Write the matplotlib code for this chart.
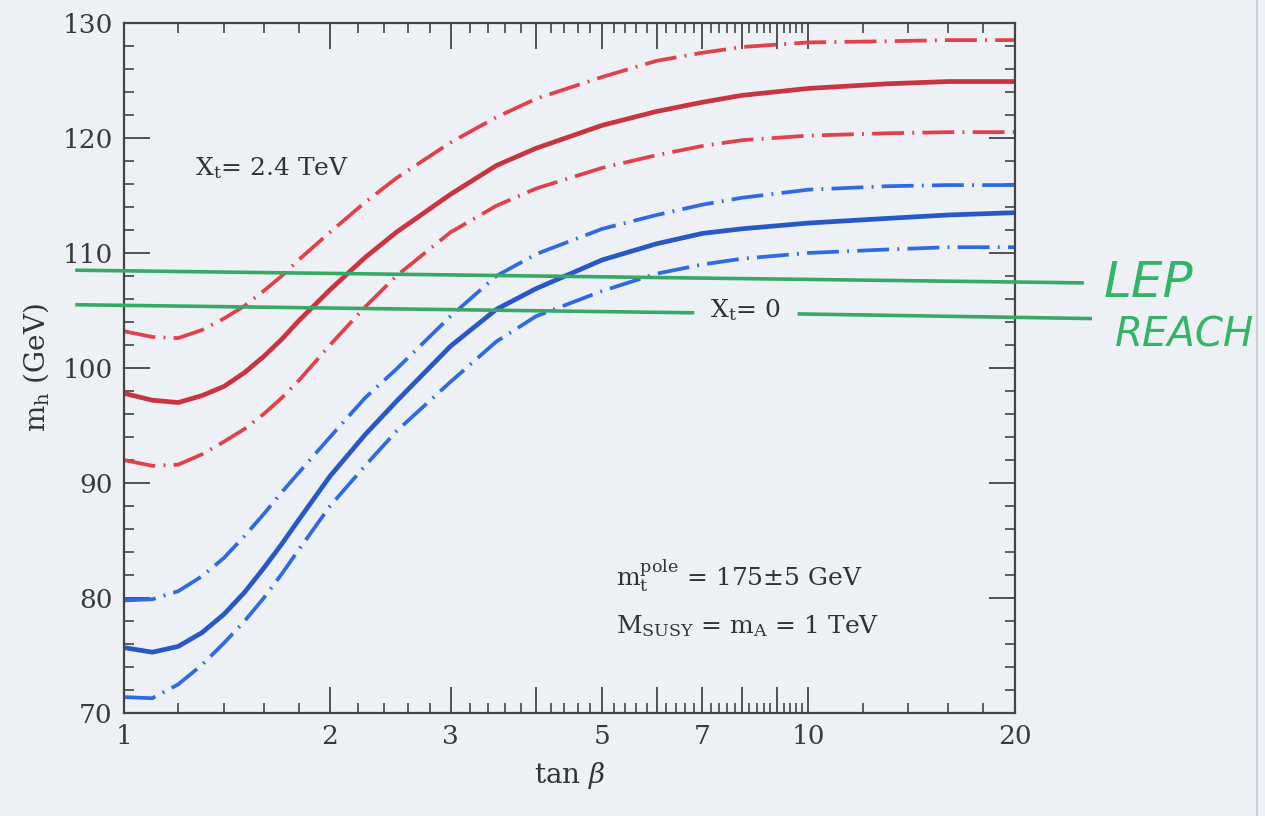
import numpy as np
import matplotlib
matplotlib.use('Agg')
from matplotlib import pyplot as plt
from matplotlib.ticker import FixedLocator, NullFormatter

plt.rcParams['font.family'] = 'DejaVu Serif'
plt.rcParams['mathtext.fontset'] = 'dejavuserif'

tanb = [1, 1.1, 1.2, 1.3, 1.4, 1.5, 1.6, 1.7, 1.8, 2, 2.25, 2.5, 3, 3.5, 4, 5, 6, 7, 8, 10, 13, 16, 20]

# X_t = 2.4 TeV (red): mt = 175 (solid), 180 (upper), 170 (lower)
red_mid = [97.8, 97.2, 97.0, 97.6, 98.4, 99.6, 101.0, 102.5, 104.1, 106.8, 109.6, 111.8, 115.1, 117.6,
           119.1, 121.1, 122.3, 123.1, 123.7, 124.3, 124.7, 124.9, 124.9]
red_hi = [103.2, 102.7, 102.6, 103.3, 104.3, 105.4, 106.7, 108.0, 109.4, 111.8, 114.4, 116.5, 119.6,
          121.8, 123.4, 125.3, 126.7, 127.4, 127.9, 128.3, 128.4, 128.5, 128.5]
red_lo = [92.0, 91.5, 91.6, 92.5, 93.6, 94.7, 96.0, 97.4, 98.9, 102.0, 105.3, 108.0, 111.8, 114.1,
          115.6, 117.4, 118.5, 119.3, 119.8, 120.2, 120.4, 120.5, 120.5]

# X_t = 0 (blue)
blue_mid = [75.7, 75.3, 75.8, 77.0, 78.6, 80.5, 82.6, 84.7, 86.8, 90.6, 94.2, 97.1, 101.9, 105.1,
            106.9, 109.4, 110.8, 111.7, 112.1, 112.6, 113.0, 113.3, 113.5]
blue_hi = [79.8, 79.9, 80.6, 81.9, 83.5, 85.4, 87.3, 89.2, 90.9, 94.0, 97.4, 99.9, 104.5, 108.0,
           109.9, 112.1, 113.3, 114.2, 114.8, 115.5, 115.8, 115.9, 115.9]
blue_lo = [71.4, 71.3, 72.5, 74.2, 76.1, 78.0, 80.0, 82.1, 84.2, 88.0, 91.5, 94.5, 98.8, 102.3,
           104.5, 106.7, 108.2, 109.0, 109.5, 110.0, 110.3, 110.5, 110.5]

# hand drawn LEP reach lines (slightly tilted)
lep_hi_x = [0.854, 25.1]
lep_hi_y = [108.5, 107.4]
lep_lo_x1 = [0.854, 6.77]
lep_lo_y1 = [105.5, 104.8]
lep_lo_x2 = [9.70, 25.8]
lep_lo_y2 = [104.7, 104.3]

xticks_lab = [1, 2, 3, 5, 7, 10, 20]

bg = '#edf1f6'
ink = '#333333'
fig = plt.figure(figsize=(12.65, 8.16), dpi=100, facecolor=bg)
ax = fig.add_axes([0.098, 0.126, 0.704, 0.846])
ax.set_facecolor(bg)

ax.set_xscale('log')
ax.set_xlim(1, 20)
ax.set_ylim(70, 130)

dd = (8.5, 2.2, 0.5, 2.2)
ax.plot(tanb, red_mid, color='#c8343f', lw=3.4, solid_joinstyle='round')
ax.plot(tanb, red_hi, color='#e2404a', lw=2.7, dashes=dd)
ax.plot(tanb, red_lo, color='#e2404a', lw=2.7, dashes=dd)
ax.plot(tanb, blue_mid, color='#2758c4', lw=3.4, solid_joinstyle='round')
ax.plot(tanb, blue_hi, color='#2f6ae0', lw=2.7, dashes=dd)
ax.plot(tanb, blue_lo, color='#2f6ae0', lw=2.7, dashes=dd)

green = '#3aa865'
for xs, ys in [(lep_hi_x, lep_hi_y), (lep_lo_x1, lep_lo_y1), (lep_lo_x2, lep_lo_y2)]:
    ax.plot(xs, ys, color=green, lw=2.6, clip_on=False, zorder=4)

ax.text(27.0, 107.4, 'LEP', color='#34b467', fontsize=36, family='DejaVu Sans',
        style='italic', va='center', ha='left', clip_on=False)
ax.text(28.0, 102.9, 'REACH', color='#34b467', fontsize=29, family='DejaVu Sans',
        style='italic', va='center', ha='left', clip_on=False)

ax.text(1.27, 117.4, r'$\mathrm{X_t}$= 2.4 TeV', fontsize=18, color=ink, va='center')
ax.text(7.17, 105.0, r'$\mathrm{X_t}$= 0', fontsize=18, color=ink, va='center')
ax.text(5.23, 81.9, r'$\mathrm{m_t^{pole}}$ = 175$\pm$5 GeV', fontsize=18, color=ink, va='center')
ax.text(5.23, 77.6, r'$\mathrm{M_{SUSY}}$ = $\mathrm{m_A}$ = 1 TeV', fontsize=18, color=ink, va='center')

# ticks
major_x = list(range(1, 11)) + [20]
minor_x = [i + k * 0.2 for i in range(1, 10) for k in range(1, 5)] + [12, 14, 16, 18]
ax.xaxis.set_major_locator(FixedLocator(major_x))
ax.xaxis.set_minor_locator(FixedLocator(minor_x))
ax.xaxis.set_minor_formatter(NullFormatter())
ax.set_xticks(major_x)
ax.set_xticklabels([str(v) if v in xticks_lab else '' for v in major_x])
ax.set_yticks(np.arange(70, 131, 10))
ax.set_yticks(np.arange(70, 131, 2), minor=True)

ax.tick_params(which='both', direction='in', top=True, right=True, color='#444444')
ax.tick_params(which='major', length=19, width=1.3, labelsize=19, labelcolor='#3a3a3a', pad=8)
ax.tick_params(which='minor', length=7, width=1.2)
for s in ax.spines.values():
    s.set_color('#444444')
    s.set_linewidth(1.6)

ax.set_xlabel(r'tan $\beta$', fontsize=20, color=ink, labelpad=8)
ax.set_ylabel(r'$\mathrm{m_h}$ (GeV)', fontsize=20, color=ink, labelpad=8)

# page edge of the scan
fig.add_artist(plt.Line2D([0.994, 0.994], [0, 1], color='#c9cfd6', lw=1.5))

fig.savefig('out.png', dpi=100, facecolor=bg)
